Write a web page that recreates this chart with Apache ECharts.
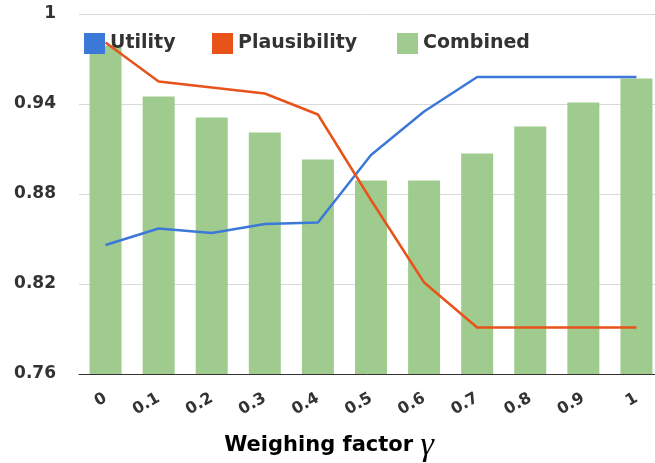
<!DOCTYPE html>
<html>
<head>
<meta charset="utf-8">
<script src="https://cdn.jsdelivr.net/npm/echarts@6/dist/echarts.min.js"></script>
<style>
  html, body { margin: 0; padding: 0; background: #fff; }
  #chart { width: 655px; height: 463px; }
</style>
</head>
<body>
<div id="chart"></div>
<script>
// 横轴类别
const categories = ['0', '0.1', '0.2', '0.3', '0.4', '0.5', '0.6', '0.7', '0.8', '0.9', '1']
// 各系列数值
const utility = [0.846, 0.857, 0.854, 0.860, 0.861, 0.906, 0.935, 0.958, 0.958, 0.958, 0.958]
const plausibility = [0.981, 0.955, 0.951, 0.947, 0.933, 0.876, 0.821, 0.791, 0.791, 0.791, 0.791]
const combined = [0.979, 0.945, 0.931, 0.921, 0.903, 0.889, 0.889, 0.907, 0.925, 0.941, 0.957]

const chart = echarts.init(document.getElementById('chart'))
const labelFont = '"DejaVu Sans", Verdana, sans-serif'

// 图例样式（每项单独定位）
const legendBase = {
  top: 28,
  icon: 'rect',
  itemWidth: 21,
  itemHeight: 21,
  textStyle: { fontSize: 19, fontWeight: 'bold', color: '#333', fontFamily: labelFont, padding: [0, 0, 0, 0] }
}

const option = {
  animation: false,
  grid: { left: 79, top: 14, width: 584, height: 360, outerBoundsMode: 'none' },
  legend: [
    Object.assign({}, legendBase, { left: 79, data: ['Utility'] }),
    Object.assign({}, legendBase, { left: 207, data: ['Plausibility'] }),
    Object.assign({}, legendBase, { left: 392, data: ['Combined'] })
  ],
  xAxis: {
    type: 'category',
    data: categories,
    axisLine: { lineStyle: { color: '#333', width: 1 } },
    axisTick: { show: false },
    axisLabel: {
      rotate: 30,
      margin: 23,
      fontSize: 16,
      fontWeight: 'bold',
      color: '#333',
      fontFamily: labelFont
    },
    name: '{a|Weighing factor }{g|γ}',
    nameLocation: 'middle',
    nameGap: 55,
    nameTextStyle: {
      padding: [0, 84, 0, 0],
      rich: {
        a: { fontSize: 21, fontWeight: 'bold', color: '#000', fontFamily: labelFont },
        g: { fontSize: 34, fontStyle: 'italic', color: '#000', fontFamily: '"Liberation Serif", "DejaVu Serif", serif' }
      }
    }
  },
  yAxis: {
    type: 'value',
    min: 0.76,
    max: 1,
    interval: 0.06,
    splitLine: { lineStyle: { color: '#d9d9d9', width: 1 } },
    axisLine: { show: false },
    axisTick: { show: false },
    axisLabel: {
      margin: 23,
      fontSize: 17,
      fontWeight: 'bold',
      color: '#333',
      fontFamily: labelFont,
      formatter: v => String(parseFloat(v.toFixed(2)))
    }
  },
  series: [
    {
      name: 'Utility',
      type: 'line',
      data: utility,
      symbol: 'none',
      z: 5,
      itemStyle: { color: '#3c78d8' },
      lineStyle: { color: '#3c78d8', width: 2.5 }
    },
    {
      name: 'Plausibility',
      type: 'line',
      data: plausibility,
      symbol: 'none',
      z: 5,
      itemStyle: { color: '#e8531a' },
      lineStyle: { color: '#e8531a', width: 2.5 }
    },
    {
      name: 'Combined',
      type: 'bar',
      data: combined,
      barWidth: 32,
      z: 2,
      itemStyle: { color: '#9fcb8e' }
    }
  ]
}
chart.setOption(option)
</script>
</body>
</html>
